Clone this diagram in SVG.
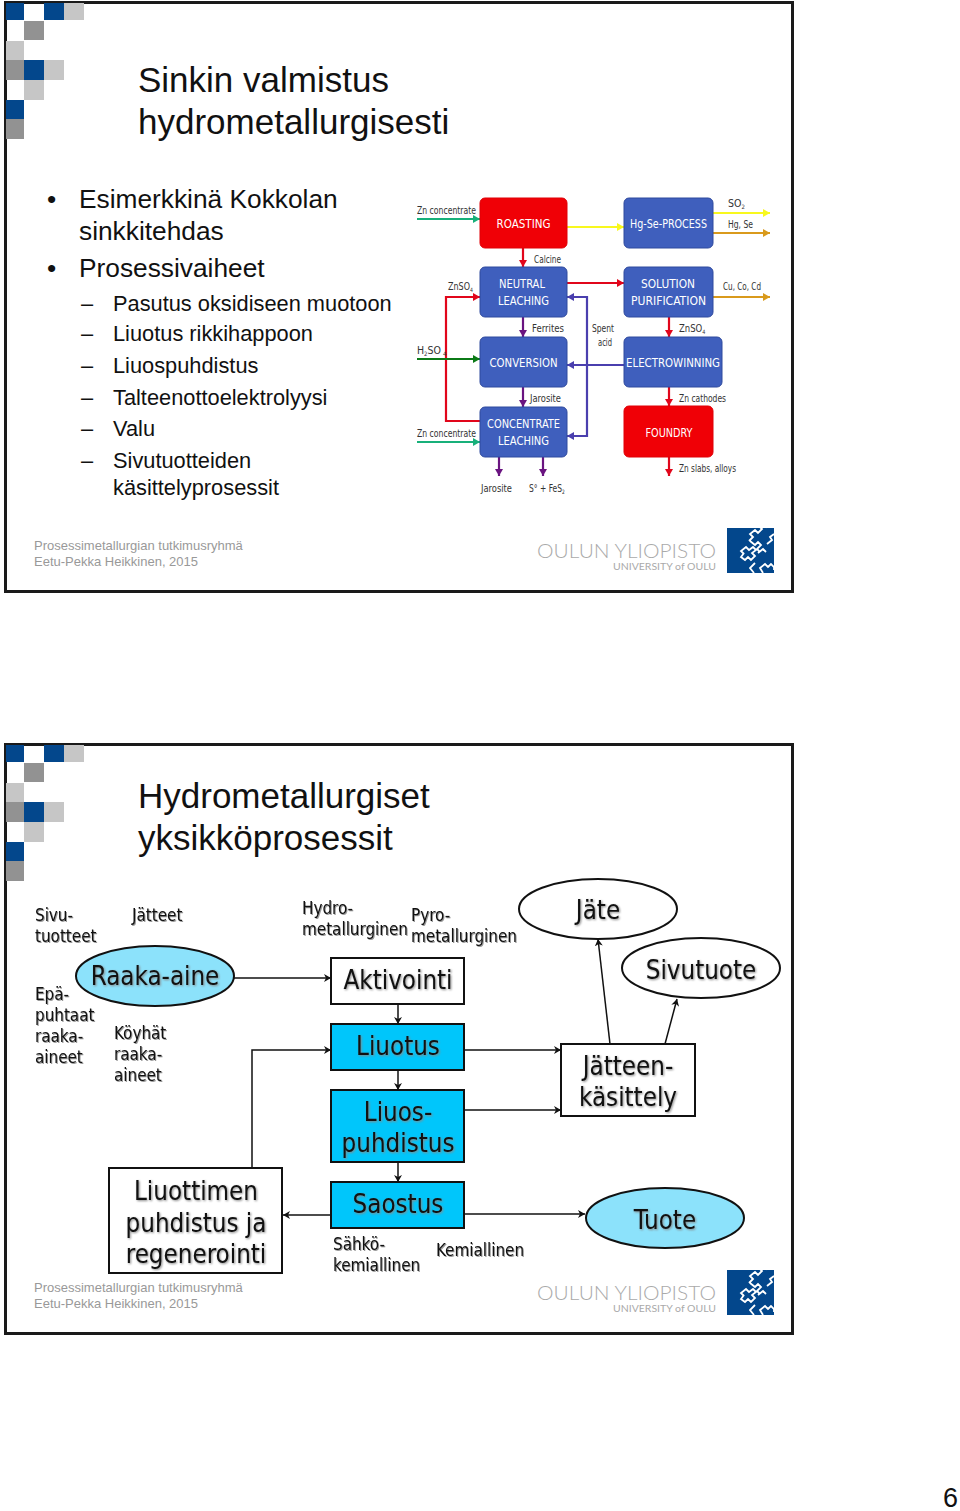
<svg xmlns="http://www.w3.org/2000/svg" width="960" height="1511" viewBox="0 0 960 1511">
<style>
text{font-family:"Liberation Sans",Arial,sans-serif;fill:#111}
.frame{fill:#fff;stroke:#1a1a1a;stroke-width:3}
.b{fill:#03478c}.g{fill:#929292}.l{fill:#c6c6c6}
.title{font-size:35px}
.h1{font-size:26.300px}.h2{font-size:21.800px}
.foot{font-size:13px;fill:#999}
.ou{font-family:Lato,"Liberation Sans",sans-serif;font-weight:300;font-size:20px;fill:#aaa}
.uo{font-family:Lato,"Liberation Sans",sans-serif;font-size:10px;fill:#aaa}
.pb{fill:#3f5fbd;stroke:#2f4a9e;stroke-width:1}
.pr{fill:#f00006;stroke:#e00006;stroke-width:1}
.pt{font-family:"DejaVu Sans Condensed","DejaVu Sans",sans-serif;font-size:13px;fill:#fff;text-anchor:middle}
.pl{font-family:"DejaVu Sans Condensed","DejaVu Sans",sans-serif;font-size:10.500px;fill:#333}
.c{fill:none;stroke-width:2.2}
.red{stroke:#e1061b}.grn{stroke:#18b07a}.dg{stroke:#0b7a16}.yel{stroke:#f8f81e}.org{stroke:#d99a1c}.pur{stroke:#6a1480}.blu{stroke:#4a3fae}
.ln{fill:none;stroke:#111;stroke-width:1.500}
.n{stroke:#111;stroke-width:2}
.w{fill:#fff}.cy{fill:#00c6fb}.lc{fill:#8ce2fb}
.t{font-family:"DejaVu Sans Condensed","DejaVu Sans",sans-serif;fill:#111;text-anchor:middle;filter:drop-shadow(1.500px 1.500px 1px #888)}
.big{font-size:25.700px}
.s{font-family:"DejaVu Sans Condensed","DejaVu Sans",sans-serif;font-size:16.900px;fill:#111;filter:drop-shadow(1px 1px .7px #999)}
.logo{fill:none;stroke:#fff;stroke-width:1.800}
</style>
<defs>
<marker id="mr" markerUnits="userSpaceOnUse" markerWidth="9" markerHeight="10" refX="7" refY="5" orient="auto"><path d="M0 1L7 5L0 9Z" fill="#e1061b"/></marker>
<marker id="mg" markerUnits="userSpaceOnUse" markerWidth="9" markerHeight="10" refX="7" refY="5" orient="auto"><path d="M0 1L7 5L0 9Z" fill="#18b07a"/></marker>
<marker id="mdg" markerUnits="userSpaceOnUse" markerWidth="9" markerHeight="10" refX="7" refY="5" orient="auto"><path d="M0 1L7 5L0 9Z" fill="#0b7a16"/></marker>
<marker id="my" markerUnits="userSpaceOnUse" markerWidth="9" markerHeight="10" refX="7" refY="5" orient="auto"><path d="M0 1L7 5L0 9Z" fill="#f8f81e"/></marker>
<marker id="mo" markerUnits="userSpaceOnUse" markerWidth="9" markerHeight="10" refX="7" refY="5" orient="auto"><path d="M0 1L7 5L0 9Z" fill="#d99a1c"/></marker>
<marker id="mp" markerUnits="userSpaceOnUse" markerWidth="9" markerHeight="10" refX="7" refY="5" orient="auto"><path d="M0 1L7 5L0 9Z" fill="#6a1480"/></marker>
<marker id="mb" markerUnits="userSpaceOnUse" markerWidth="9" markerHeight="10" refX="7" refY="5" orient="auto"><path d="M0 1L7 5L0 9Z" fill="#4a3fae"/></marker>
<marker id="mk" markerUnits="userSpaceOnUse" markerWidth="9" markerHeight="8" refX="7" refY="4" orient="auto"><path d="M0 0L7 4L0 8L2 4Z" fill="#111"/></marker>
<g id="deco">
<rect class="b" x="6" y="3" width="18" height="17"/><rect class="b" x="44" y="3" width="20" height="17"/><rect class="l" x="64" y="3" width="20" height="17"/>
<rect class="g" x="24" y="21" width="20" height="19"/><rect class="l" x="6" y="41" width="18" height="19"/>
<rect class="g" x="6" y="60" width="18" height="20"/><rect class="b" x="24" y="60" width="20" height="20"/><rect class="l" x="44" y="60" width="20" height="20"/>
<rect class="l" x="24" y="80" width="20" height="20"/><rect class="b" x="6" y="100" width="18" height="19"/><rect class="g" x="6" y="119" width="18" height="20"/>
</g>
<g id="foot">
<text class="foot" x="34" y="550">Prosessimetallurgian tutkimusryhmä</text>
<text class="foot" x="34" y="566">Eetu-Pekka Heikkinen, 2015</text>
<text class="ou" x="537" y="558" textLength="179" lengthAdjust="spacingAndGlyphs">OULUN YLIOPISTO</text>
<text class="uo" x="613" y="570" textLength="103" lengthAdjust="spacingAndGlyphs">UNIVERSITY of OULU</text>
<rect class="b" x="727" y="528" width="47" height="45"/>
<path class="logo" d="M749 541l4-4-3-3 5-4 3 3 4-4-2-2 4-3 3 3 3-3 3 3M750 541l5 4 3-3 3 3-4 4 3 3M774 534l-4 3 2 3-5 4M744 553l-3 4 4 3 3-3 3 3 4-4-3-3 4-3-3-3-4 3-3-3-5 4 3 3M755 563l-5 5 4 5M763 573l-3-5 5-4 3 3 3-3 3 3 0 3M758 553l5-4 3 3"/>
</g>
</defs>

<g id="slide1">
<rect class="frame" x="5.500" y="2.500" width="787" height="589"/>
<use href="#deco"/>
<text class="title" x="138" y="92">Sinkin valmistus</text>
<text class="title" x="138" y="134">hydrometallurgisesti</text>
<text class="h1" x="47" y="208">•</text><text class="h1" x="79" y="208">Esimerkkinä Kokkolan</text>
<text class="h1" x="79" y="240">sinkkitehdas</text>
<text class="h1" x="47" y="277">•</text><text class="h1" x="79" y="277">Prosessivaiheet</text>
<g class="h2">
<text x="81" y="311">–</text><text x="113" y="311">Pasutus oksidiseen muotoon</text>
<text x="81" y="341">–</text><text x="113" y="341">Liuotus rikkihappoon</text>
<text x="81" y="373">–</text><text x="113" y="373">Liuospuhdistus</text>
<text x="81" y="405">–</text><text x="113" y="405">Talteenottoelektrolyysi</text>
<text x="81" y="436">–</text><text x="113" y="436">Valu</text>
<text x="81" y="468">–</text><text x="113" y="468">Sivutuotteiden</text>
<text x="113" y="495">käsittelyprosessit</text>
</g>
<use href="#foot"/>
</g>

<g id="process-connectors">
<path class="c grn" d="M417 219H480" marker-end="url(#mg)"/>
<path class="c yel" d="M567 227H624" marker-end="url(#my)"/>
<path class="c yel" d="M713 213H770" marker-end="url(#my)"/>
<path class="c org" d="M713 233H770" marker-end="url(#mo)"/>
<path class="c red" d="M523 248V267" marker-end="url(#mr)"/>
<path class="c red" d="M567 283H624" marker-end="url(#mr)"/>
<path class="c org" d="M713 297H770" marker-end="url(#mo)"/>
<path class="c red" d="M480 421H446V297H480" marker-end="url(#mr)"/>
<path class="c dg" d="M417 359H480" marker-end="url(#mdg)"/>
<path class="c grn" d="M417 442H480" marker-end="url(#mg)"/>
<path class="c pur" d="M523 317V337" marker-end="url(#mp)"/>
<path class="c pur" d="M523 387V407" marker-end="url(#mp)"/>
<path class="c pur" d="M499 457V476" marker-end="url(#mp)"/>
<path class="c pur" d="M543 457V476" marker-end="url(#mp)"/>
<path class="c red" d="M669 317V337" marker-end="url(#mr)"/>
<path class="c red" d="M669 387V406" marker-end="url(#mr)"/>
<path class="c red" d="M669 457V476" marker-end="url(#mr)"/>
<path class="c blu" d="M624 365H567" marker-end="url(#mb)"/>
<path class="c blu" d="M587 365V297H567" marker-end="url(#mb)"/>
<path class="c blu" d="M587 365V436H567" marker-end="url(#mb)"/>
</g>
<g id="roasting"><rect class="pr" x="480" y="198" width="87" height="50" rx="5"/><text class="pt" x="523.500" y="228" textLength="54" lengthAdjust="spacingAndGlyphs">ROASTING</text></g>
<g id="neutral"><rect class="pb" x="480" y="267" width="87" height="50" rx="5"/><text class="pt" x="522" y="288" textLength="46" lengthAdjust="spacingAndGlyphs">NEUTRAL</text><text class="pt" x="523.500" y="305" textLength="51" lengthAdjust="spacingAndGlyphs">LEACHING</text></g>
<g id="conversion"><rect class="pb" x="480" y="337" width="87" height="50" rx="5"/><text class="pt" x="523.500" y="367" textLength="68" lengthAdjust="spacingAndGlyphs">CONVERSION</text></g>
<g id="concentrate"><rect class="pb" x="480" y="407" width="87" height="50" rx="5"/><text class="pt" x="523.500" y="428" textLength="73" lengthAdjust="spacingAndGlyphs">CONCENTRATE</text><text class="pt" x="523.500" y="445" textLength="51" lengthAdjust="spacingAndGlyphs">LEACHING</text></g>
<g id="hgse"><rect class="pb" x="624" y="198" width="89" height="50" rx="5"/><text class="pt" x="668.500" y="228" textLength="77" lengthAdjust="spacingAndGlyphs">Hg-Se-PROCESS</text></g>
<g id="solution"><rect class="pb" x="624" y="267" width="89" height="50" rx="5"/><text class="pt" x="668" y="288" textLength="54" lengthAdjust="spacingAndGlyphs">SOLUTION</text><text class="pt" x="668.500" y="305" textLength="75" lengthAdjust="spacingAndGlyphs">PURIFICATION</text></g>
<g id="electrowinning"><rect class="pb" x="624" y="337" width="98" height="50" rx="5"/><text class="pt" x="673" y="367" textLength="94" lengthAdjust="spacingAndGlyphs">ELECTROWINNING</text></g>
<g id="foundry"><rect class="pr" x="624" y="406" width="89" height="51" rx="5"/><text class="pt" x="669" y="437" textLength="47" lengthAdjust="spacingAndGlyphs">FOUNDRY</text></g>
<g id="process-labels">
<text class="pl" x="417" y="214" textLength="59" lengthAdjust="spacingAndGlyphs">Zn concentrate</text>
<text class="pl" x="534" y="263" textLength="27" lengthAdjust="spacingAndGlyphs">Calcine</text>
<text class="pl" transform="translate(448 290) scale(.85 1)">ZnSO<tspan font-size="6" dy="2">4</tspan></text>
<text class="pl" x="532" y="332" textLength="32" lengthAdjust="spacingAndGlyphs">Ferrites</text>
<text class="pl" x="592" y="332" textLength="22" lengthAdjust="spacingAndGlyphs">Spent</text><text class="pl" x="598" y="346" textLength="14" lengthAdjust="spacingAndGlyphs">acid</text>
<text class="pl" x="417" y="354">H<tspan font-size="6" dy="2">2</tspan><tspan dy="-2">SO</tspan><tspan font-size="6" dy="2" dx="2">4</tspan></text>
<text class="pl" x="530" y="402" textLength="31" lengthAdjust="spacingAndGlyphs">Jarosite</text>
<text class="pl" x="417" y="437" textLength="59" lengthAdjust="spacingAndGlyphs">Zn concentrate</text>
<text class="pl" x="481" y="492" textLength="31" lengthAdjust="spacingAndGlyphs">Jarosite</text>
<text class="pl" transform="translate(529 492) scale(.8 1)">S° + FeS<tspan font-size="6" dy="2">2</tspan></text>
<text class="pl" x="728" y="207">SO<tspan font-size="6" dy="2">2</tspan></text>
<text class="pl" x="728" y="228" textLength="25" lengthAdjust="spacingAndGlyphs">Hg, Se</text>
<text class="pl" x="723" y="290" textLength="38" lengthAdjust="spacingAndGlyphs">Cu, Co, Cd</text>
<text class="pl" transform="translate(679 332) scale(.9 1)">ZnSO<tspan font-size="6" dy="2">4</tspan></text>
<text class="pl" x="679" y="402" textLength="47" lengthAdjust="spacingAndGlyphs">Zn cathodes</text>
<text class="pl" x="679" y="472" textLength="57" lengthAdjust="spacingAndGlyphs">Zn slabs, alloys</text>
</g>

<g id="slide2">
<rect class="frame" x="5.500" y="744.500" width="787" height="589"/>
<use href="#deco" y="742"/>
<text class="title" x="138" y="808">Hydrometallurgiset</text>
<text class="title" x="138" y="850">yksikköprosessit</text>
<use href="#foot" y="742"/>
<text class="s" x="35" y="921">Sivu-</text><text class="s" x="35" y="942">tuotteet</text>
<text class="s" x="132" y="921">Jätteet</text>
<text class="s" x="302" y="914">Hydro-</text><text class="s" x="302" y="935">metallurginen</text>
<text class="s" x="411" y="921">Pyro-</text><text class="s" x="411" y="942">metallurginen</text>
<text class="s" x="35" y="1000">Epä-</text><text class="s" x="35" y="1021">puhtaat</text><text class="s" x="35" y="1042">raaka-</text><text class="s" x="35" y="1063">aineet</text>
<text class="s" x="114" y="1039">Köyhät</text><text class="s" x="114" y="1060">raaka-</text><text class="s" x="114" y="1081">aineet</text>
<text class="s" x="333" y="1250">Sähkö-</text><text class="s" x="333" y="1271">kemiallinen</text>
<text class="s" x="436" y="1256">Kemiallinen</text>
</g>
<g id="unit-connectors">
<path class="ln" d="M234 978H331" marker-end="url(#mk)"/>
<path class="ln" d="M398 1004V1024" marker-end="url(#mk)"/>
<path class="ln" d="M398 1070V1090" marker-end="url(#mk)"/>
<path class="ln" d="M398 1162V1182" marker-end="url(#mk)"/>
<path class="ln" d="M252 1168V1050H331" marker-end="url(#mk)"/>
<path class="ln" d="M464 1050H561" marker-end="url(#mk)"/>
<path class="ln" d="M464 1110H561" marker-end="url(#mk)"/>
<path class="ln" d="M331 1215H283" marker-end="url(#mk)"/>
<path class="ln" d="M464 1214H585" marker-end="url(#mk)"/>
<path class="ln" d="M610 1044L598 939" marker-end="url(#mk)"/>
<path class="ln" d="M665 1044L677 999" marker-end="url(#mk)"/>
</g>
<g id="raaka"><ellipse class="n lc" cx="155" cy="976" rx="79" ry="30"/><text class="t big" x="155" y="985">Raaka-aine</text></g>
<g id="jate"><ellipse class="n w" cx="598" cy="909" rx="79" ry="30"/><text class="t big" x="598" y="919">Jäte</text></g>
<g id="sivutuote"><ellipse class="n w" cx="701" cy="968" rx="79" ry="30"/><text class="t big" x="701" y="979">Sivutuote</text></g>
<g id="tuote"><ellipse class="n lc" cx="665" cy="1218" rx="79" ry="30"/><text class="t big" x="665" y="1229">Tuote</text></g>
<g id="aktivointi"><rect class="n w" x="331" y="958" width="133" height="46"/><text class="t big" x="398" y="989">Aktivointi</text></g>
<g id="liuotus"><rect class="n cy" x="331" y="1024" width="133" height="46"/><text class="t big" x="398" y="1055">Liuotus</text></g>
<g id="liuospuhdistus"><rect class="n cy" x="331" y="1090" width="133" height="72"/><text class="t big" x="398" y="1121">Liuos-</text><text class="t big" x="398" y="1152">puhdistus</text></g>
<g id="saostus"><rect class="n cy" x="331" y="1182" width="133" height="46"/><text class="t big" x="398" y="1213">Saostus</text></g>
<g id="jatteenkasittely"><rect class="n w" x="561" y="1044" width="134" height="72"/><text class="t big" x="628" y="1075">Jätteen-</text><text class="t big" x="628" y="1106">käsittely</text></g>
<g id="liuottimen"><rect class="n w" x="109" y="1168" width="173" height="105"/><text class="t big" x="196" y="1200">Liuottimen</text><text class="t big" x="196" y="1232">puhdistus ja</text><text class="t big" x="196" y="1263">regenerointi</text></g>
<text id="page" x="943" y="1507" font-size="27">6</text>
</svg>
